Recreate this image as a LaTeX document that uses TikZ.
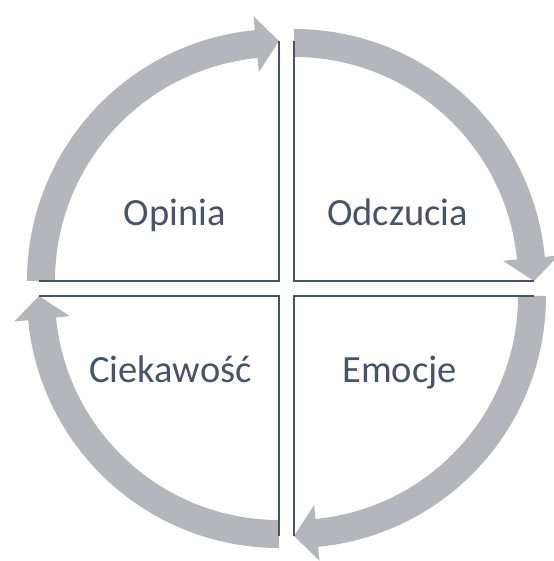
\documentclass[tikz,border=0pt]{standalone}
\usepackage{fontspec}
\setmainfont{Carlito}
\definecolor{arcgray}{HTML}{B4B6BC}
\definecolor{slate}{HTML}{44546A}

\begin{document}
\begin{tikzpicture}[x=1pt, y=1pt,
    band/.style={fill=arcgray},
    axisline/.style={draw=slate, line width=2pt},
    label/.style={anchor=base, text=slate, font=\fontsize{38.5}{46}\selectfont}]
            \useasboundingbox (0,0) rectangle (553,561);
            % ==== CORNERS ====
            \coordinate (tl) at (279,280);
            \coordinate (tr) at (294,280);
            \coordinate (bl) at (279,265);
            \coordinate (br) at (294,265);

            % ==== TOP RIGHT ====
            \begin{scope}[shift={(tr)}]
                \fill[band] (90:252) arc[start angle=90, end angle=5.5, radius=252]
                    -- (5.5:266) -- (0:240) -- (5.5:210) -- (5.5:224)
                    arc[start angle=5.5, end angle=90, radius=224] -- cycle;
                \draw[axisline] (90:240) -- (0,0) -- (0:240);
            \end{scope}
            % ==== BOTTOM RIGHT ====
            \begin{scope}[shift={(br)}]
                \fill[band] (0:252) arc[start angle=0, end angle=-84.5, radius=252]
                    -- (-84.5:266) -- (-90:240) -- (-84.5:210) -- (-84.5:224)
                    arc[start angle=-84.5, end angle=0, radius=224] -- cycle;
                \draw[axisline] (0:240) -- (0,0) -- (-90:240);
            \end{scope}
            % ==== BOTTOM LEFT ====
            \begin{scope}[shift={(bl)}]
                \fill[band] (-90:252) arc[start angle=-90, end angle=-174.5, radius=252]
                    -- (-174.5:266) -- (-180:240) -- (-174.5:210) -- (-174.5:224)
                    arc[start angle=-174.5, end angle=-90, radius=224] -- cycle;
                \draw[axisline] (-90:240) -- (0,0) -- (180:240);
            \end{scope}
            % ==== TOP LEFT ====
            \begin{scope}[shift={(tl)}]
                \fill[band] (180:252) arc[start angle=180, end angle=95.5, radius=252]
                    -- (95.5:266) -- (90:240) -- (95.5:210) -- (95.5:224)
                    arc[start angle=95.5, end angle=180, radius=224] -- cycle;
                \draw[axisline] (180:240) -- (0,0) -- (90:240);
            \end{scope}

            % ==== LABELS ====
            \node[label] (opinia) at (175,335) {Opinia};
            \node[label] (odczucia) at (397.5,335) {Odczucia};
            \node[label] (ciekawosc) at (170.5,178) {Ciekawość};
            \node[label] (emocje) at (399.5,178) {Emocje};
         \end{tikzpicture}
\end{document}
